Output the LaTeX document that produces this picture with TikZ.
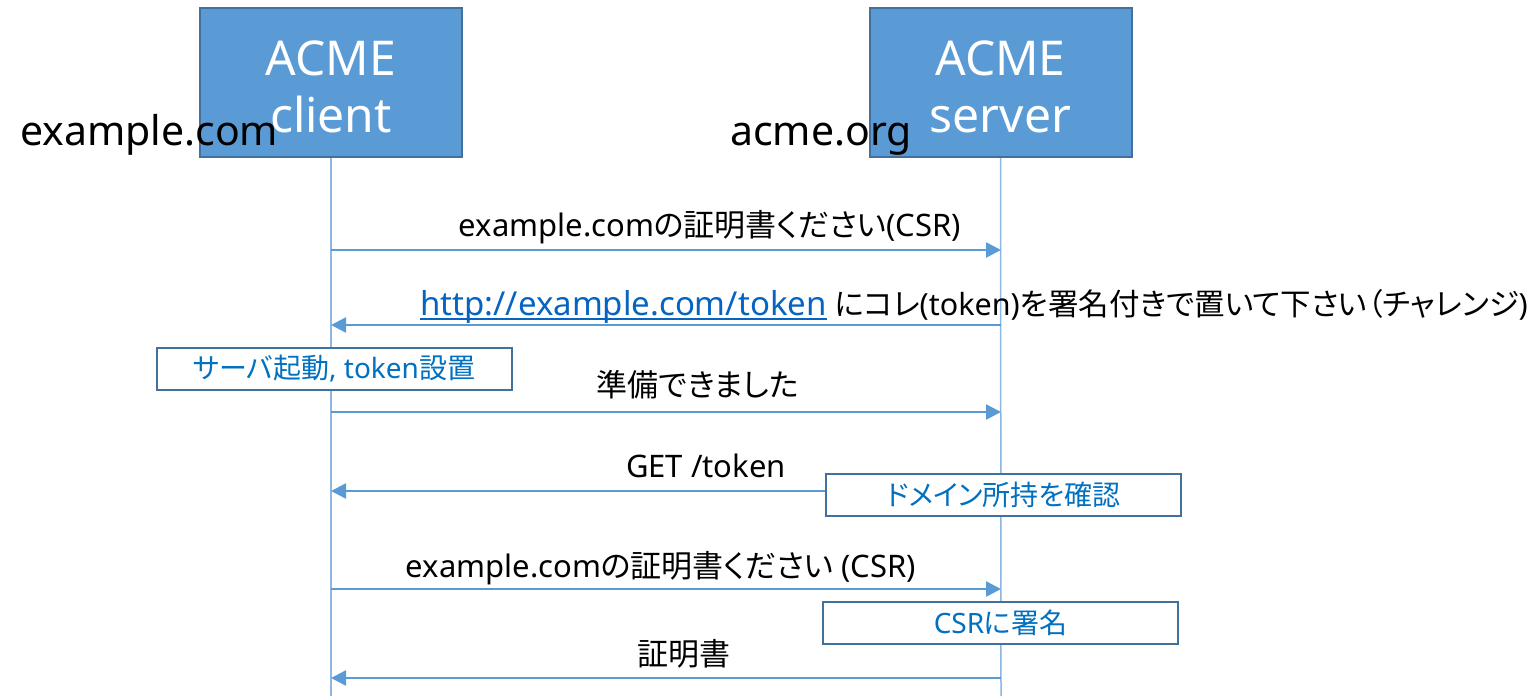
\documentclass[tikz,border=0pt]{standalone}
\usepackage{fontspec}
\setmainfont{Noto Sans}
\newfontfamily\cjk[RawFeature=+palt]{Noto Sans CJK JP}
\usetikzlibrary{arrows.meta}
\definecolor{boxfill}{HTML}{5B9BD5}
\definecolor{boxdraw}{HTML}{41719C}
\definecolor{msgcol}{HTML}{5B9BD5}
\definecolor{lifecol}{HTML}{8DB6E0}
\definecolor{notetext}{HTML}{0070C0}
\definecolor{linkcol}{HTML}{0563C1}
\newcommand\jpt[1]{{\cjk #1}}
\newsavebox\ulbox
\newcommand\linkul[1]{\sbox\ulbox{#1}\rlap{\rule[-5pt]{\wd\ulbox}{1.8pt}}\usebox\ulbox}
\tikzset{
  actor/.style={draw=boxdraw, line width=2pt, fill=boxfill, minimum width=262pt, minimum height=149pt, inner sep=0pt},
  actortext/.style={anchor=base, text=white, font=\fontsize{48}{57}\selectfont, inner sep=0pt},
  hostlabel/.style={anchor=base, text=black, font=\fontsize{41}{49}\selectfont, inner sep=0pt},
  lifeline/.style={draw=lifecol, line width=1.5pt},
  msg/.style={draw=msgcol, line width=2.5pt, -{Triangle[length=15pt,width=15pt]}},
  msglabel/.style={anchor=base, text=black, font=\fontsize{31}{37}\selectfont, inner sep=0pt},
  note/.style={draw=boxdraw, line width=2pt, fill=white, text=notetext, font=\fontsize{28}{34}\selectfont, minimum width=355pt, minimum height=42pt, inner sep=0pt},
}
\begin{document}
\begin{tikzpicture}[x=1pt,y=-1pt]
\useasboundingbox (0,0) rectangle (1539,696);
% lifeline end points
\coordinate (clientend) at (331,696);
\coordinate (serverend) at (1001,696);
% actors
\node[actor] (client) at (331,82.5) {};
\node[actor] (server) at (1000.5,82.5) {};
\draw[lifeline] (client.south) -- (clientend);
\draw[lifeline] (server.south) -- (serverend);
% message end points
\foreach \n/\y in {1/250,2/325,3/412,4/491,5/589,6/678}{
  \coordinate (c\n) at (331,\y);
  \coordinate (s\n) at (1001,\y);
}
\draw[msg] (c1) -- (s1);
\draw[msg] (s2) -- (c2);
\draw[msg] (c3) -- (s3);
\draw[msg] (s4) -- (c4);
\draw[msg] (c5) -- (s5);
\draw[msg] (s6) -- (c6);
% labels
\node[msglabel, anchor=base west] (m2) at (420,315) {\textcolor{linkcol}{\linkul{\fontsize{33}{37}\selectfont http://example.com/token}}\fontsize{30.5}{37}\selectfont\ \jpt{にコレ}(token)\jpt{を署名付きで置いて下さい（チャレンジ})};
\node[msglabel] (m1) at (710,236) {example.com\jpt{の証明書ください}(CSR)};
\node[msglabel] (m3) at (698,396) {\jpt{準備できました}};
\node[msglabel] (m4) at (706,477) {GET /token};
\node[msglabel] (m5) at (661,577) {example.com\jpt{の証明書ください} (CSR)};
\node[msglabel] (m6) at (684,665) {\jpt{証明書}};
% notes
\node[note] (n1) at (334,369) {\jpt{サーバ起動}, token\jpt{設置}};
\node[note] (n2) at (1003.5,494.5) {\jpt{ドメイン所持を確認}};
\node[note] (n3) at (1000.5,623) {CSR\jpt{に署名}};
% actor texts and host labels
\node[actortext] (clientt1) at (331,75) {ACME};
\node[actortext] (clientt2) at (331,132) {client};
\node[actortext] (servert1) at (1000.5,75) {ACME};
\node[actortext] (servert2) at (1000.5,132) {server};
\node[hostlabel, anchor=base west] (host1) at (20,145) {example.com};
\node[hostlabel, anchor=base west] (host2) at (730,145) {acme.org};
\end{tikzpicture}
\end{document}
